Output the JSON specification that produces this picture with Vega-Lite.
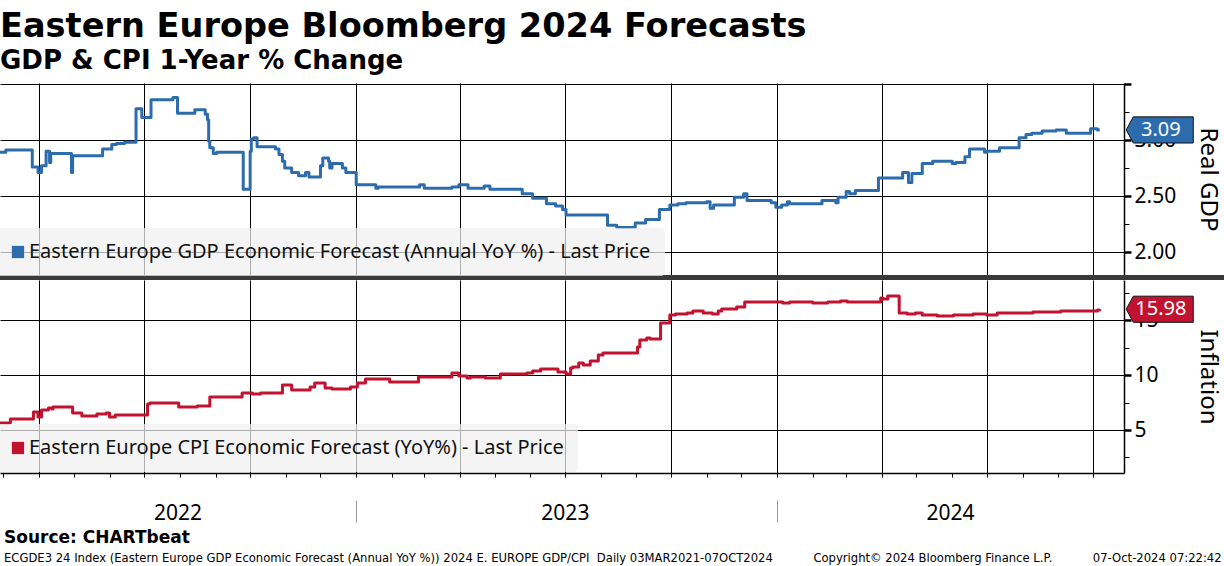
{
  "$schema": "https://vega.github.io/schema/vega-lite/v6.json",
  "padding": {"left": -6, "top": 10, "right": 0, "bottom": 0},
  "background": "white",
  "title": {
    "text": "Eastern Europe Bloomberg 2024 Forecasts",
    "subtitle": "GDP & CPI 1-Year % Change",
    "anchor": "start",
    "frame": "group",
    "font": "DejaVu Sans",
    "fontWeight": "bold",
    "fontSize": 33.6,
    "color": "#000",
    "subtitleFont": "DejaVu Sans",
    "subtitleFontWeight": "bold",
    "subtitleFontSize": 26,
    "subtitleColor": "#000",
    "subtitlePadding": 4,
    "offset": 9
  },
  "datasets": {
    "gdp": [
      {"date": "2022-02-26", "v": 2.89},
      {"date": "2022-03-03", "v": 2.91},
      {"date": "2022-03-26", "v": 2.76},
      {"date": "2022-03-31", "v": 2.71},
      {"date": "2022-04-03", "v": 2.77},
      {"date": "2022-04-07", "v": 2.90},
      {"date": "2022-04-10", "v": 2.80},
      {"date": "2022-04-11", "v": 2.88},
      {"date": "2022-04-29", "v": 2.71},
      {"date": "2022-04-30", "v": 2.86},
      {"date": "2022-05-26", "v": 2.92},
      {"date": "2022-06-03", "v": 2.96},
      {"date": "2022-06-07", "v": 2.97},
      {"date": "2022-06-14", "v": 2.98},
      {"date": "2022-06-24", "v": 3.28},
      {"date": "2022-06-29", "v": 3.20},
      {"date": "2022-07-07", "v": 3.36},
      {"date": "2022-07-26", "v": 3.38},
      {"date": "2022-07-30", "v": 3.24},
      {"date": "2022-08-14", "v": 3.27},
      {"date": "2022-08-23", "v": 3.23},
      {"date": "2022-08-25", "v": 3.18},
      {"date": "2022-08-26", "v": 2.99},
      {"date": "2022-08-27", "v": 2.93},
      {"date": "2022-08-30", "v": 2.88},
      {"date": "2022-09-02", "v": 2.89},
      {"date": "2022-09-25", "v": 2.56},
      {"date": "2022-10-01", "v": 2.90},
      {"date": "2022-10-02", "v": 3.01},
      {"date": "2022-10-04", "v": 3.02},
      {"date": "2022-10-07", "v": 2.94},
      {"date": "2022-10-23", "v": 2.92},
      {"date": "2022-10-26", "v": 2.87},
      {"date": "2022-10-29", "v": 2.81},
      {"date": "2022-10-31", "v": 2.75},
      {"date": "2022-11-06", "v": 2.71},
      {"date": "2022-11-12", "v": 2.68},
      {"date": "2022-11-18", "v": 2.71},
      {"date": "2022-11-21", "v": 2.67},
      {"date": "2022-12-01", "v": 2.77},
      {"date": "2022-12-03", "v": 2.84},
      {"date": "2022-12-08", "v": 2.81},
      {"date": "2022-12-09", "v": 2.75},
      {"date": "2022-12-11", "v": 2.79},
      {"date": "2022-12-20", "v": 2.75},
      {"date": "2022-12-23", "v": 2.71},
      {"date": "2023-01-01", "v": 2.60},
      {"date": "2023-01-18", "v": 2.57},
      {"date": "2023-01-20", "v": 2.58},
      {"date": "2023-02-25", "v": 2.60},
      {"date": "2023-03-01", "v": 2.57},
      {"date": "2023-03-25", "v": 2.58},
      {"date": "2023-03-31", "v": 2.60},
      {"date": "2023-04-08", "v": 2.57},
      {"date": "2023-04-22", "v": 2.59},
      {"date": "2023-04-27", "v": 2.56},
      {"date": "2023-05-25", "v": 2.52},
      {"date": "2023-06-03", "v": 2.48},
      {"date": "2023-06-15", "v": 2.43},
      {"date": "2023-06-23", "v": 2.41},
      {"date": "2023-06-29", "v": 2.38},
      {"date": "2023-07-02", "v": 2.33},
      {"date": "2023-08-07", "v": 2.24},
      {"date": "2023-08-15", "v": 2.22},
      {"date": "2023-08-31", "v": 2.26},
      {"date": "2023-09-09", "v": 2.29},
      {"date": "2023-09-21", "v": 2.38},
      {"date": "2023-09-30", "v": 2.42},
      {"date": "2023-10-07", "v": 2.43},
      {"date": "2023-10-14", "v": 2.44},
      {"date": "2023-11-01", "v": 2.45},
      {"date": "2023-11-04", "v": 2.39},
      {"date": "2023-11-07", "v": 2.42},
      {"date": "2023-11-25", "v": 2.49},
      {"date": "2023-12-03", "v": 2.52},
      {"date": "2023-12-06", "v": 2.46},
      {"date": "2023-12-27", "v": 2.44},
      {"date": "2023-12-31", "v": 2.40},
      {"date": "2024-01-05", "v": 2.42},
      {"date": "2024-01-10", "v": 2.45},
      {"date": "2024-01-12", "v": 2.43},
      {"date": "2024-02-09", "v": 2.46},
      {"date": "2024-02-21", "v": 2.44},
      {"date": "2024-02-23", "v": 2.49},
      {"date": "2024-03-01", "v": 2.54},
      {"date": "2024-03-04", "v": 2.52},
      {"date": "2024-03-09", "v": 2.55},
      {"date": "2024-03-29", "v": 2.66},
      {"date": "2024-04-19", "v": 2.71},
      {"date": "2024-04-24", "v": 2.62},
      {"date": "2024-04-27", "v": 2.70},
      {"date": "2024-05-06", "v": 2.79},
      {"date": "2024-05-15", "v": 2.81},
      {"date": "2024-06-01", "v": 2.79},
      {"date": "2024-06-04", "v": 2.80},
      {"date": "2024-06-12", "v": 2.85},
      {"date": "2024-06-16", "v": 2.92},
      {"date": "2024-06-29", "v": 2.89},
      {"date": "2024-07-01", "v": 2.90},
      {"date": "2024-07-12", "v": 2.93},
      {"date": "2024-07-29", "v": 3.02},
      {"date": "2024-08-04", "v": 3.05},
      {"date": "2024-08-09", "v": 3.06},
      {"date": "2024-08-18", "v": 3.08},
      {"date": "2024-08-30", "v": 3.09},
      {"date": "2024-09-08", "v": 3.06},
      {"date": "2024-09-29", "v": 3.10},
      {"date": "2024-10-05", "v": 3.09},
      {"date": "2024-10-07", "v": 3.09}
    ],
    "cpi": [
      {"date": "2022-02-26", "v": 5.64},
      {"date": "2022-03-07", "v": 6.00},
      {"date": "2022-03-27", "v": 6.64},
      {"date": "2022-03-31", "v": 6.18},
      {"date": "2022-04-03", "v": 6.82},
      {"date": "2022-04-09", "v": 7.00},
      {"date": "2022-04-12", "v": 6.91},
      {"date": "2022-04-13", "v": 7.09},
      {"date": "2022-04-30", "v": 6.55},
      {"date": "2022-05-08", "v": 6.27},
      {"date": "2022-05-21", "v": 6.45},
      {"date": "2022-05-29", "v": 6.55},
      {"date": "2022-06-01", "v": 6.18},
      {"date": "2022-06-06", "v": 6.36},
      {"date": "2022-07-04", "v": 7.36},
      {"date": "2022-07-06", "v": 7.45},
      {"date": "2022-07-31", "v": 7.09},
      {"date": "2022-08-16", "v": 7.18},
      {"date": "2022-08-27", "v": 8.00},
      {"date": "2022-09-24", "v": 8.36},
      {"date": "2022-10-03", "v": 8.27},
      {"date": "2022-10-10", "v": 8.36},
      {"date": "2022-10-29", "v": 9.09},
      {"date": "2022-11-06", "v": 8.64},
      {"date": "2022-11-22", "v": 8.91},
      {"date": "2022-11-26", "v": 9.27},
      {"date": "2022-12-05", "v": 8.82},
      {"date": "2022-12-11", "v": 8.73},
      {"date": "2022-12-27", "v": 8.91},
      {"date": "2023-01-02", "v": 9.27},
      {"date": "2023-01-09", "v": 9.64},
      {"date": "2023-01-30", "v": 9.36},
      {"date": "2023-02-24", "v": 9.82},
      {"date": "2023-03-25", "v": 10.18},
      {"date": "2023-03-31", "v": 9.91},
      {"date": "2023-04-07", "v": 9.73},
      {"date": "2023-04-10", "v": 9.82},
      {"date": "2023-04-23", "v": 9.73},
      {"date": "2023-05-06", "v": 10.09},
      {"date": "2023-05-29", "v": 10.18},
      {"date": "2023-06-03", "v": 10.36},
      {"date": "2023-06-10", "v": 10.55},
      {"date": "2023-06-25", "v": 10.27},
      {"date": "2023-07-02", "v": 10.09},
      {"date": "2023-07-06", "v": 10.64},
      {"date": "2023-07-08", "v": 10.73},
      {"date": "2023-07-13", "v": 11.09},
      {"date": "2023-07-17", "v": 10.91},
      {"date": "2023-07-23", "v": 11.27},
      {"date": "2023-07-30", "v": 11.82},
      {"date": "2023-08-03", "v": 12.00},
      {"date": "2023-09-02", "v": 12.55},
      {"date": "2023-09-04", "v": 13.18},
      {"date": "2023-09-10", "v": 13.36},
      {"date": "2023-09-13", "v": 13.27},
      {"date": "2023-09-22", "v": 14.73},
      {"date": "2023-09-30", "v": 15.45},
      {"date": "2023-10-05", "v": 15.55},
      {"date": "2023-10-15", "v": 15.64},
      {"date": "2023-10-20", "v": 15.82},
      {"date": "2023-10-29", "v": 15.64},
      {"date": "2023-11-06", "v": 15.55},
      {"date": "2023-11-11", "v": 15.82},
      {"date": "2023-11-14", "v": 16.00},
      {"date": "2023-11-27", "v": 16.18},
      {"date": "2023-12-04", "v": 16.64},
      {"date": "2024-01-06", "v": 16.55},
      {"date": "2024-01-12", "v": 16.64},
      {"date": "2024-02-01", "v": 16.55},
      {"date": "2024-02-14", "v": 16.64},
      {"date": "2024-02-25", "v": 16.73},
      {"date": "2024-03-02", "v": 16.64},
      {"date": "2024-03-31", "v": 17.00},
      {"date": "2024-04-02", "v": 16.91},
      {"date": "2024-04-06", "v": 17.18},
      {"date": "2024-04-16", "v": 15.64},
      {"date": "2024-04-23", "v": 15.55},
      {"date": "2024-04-30", "v": 15.64},
      {"date": "2024-05-06", "v": 15.45},
      {"date": "2024-05-19", "v": 15.36},
      {"date": "2024-06-02", "v": 15.45},
      {"date": "2024-06-19", "v": 15.55},
      {"date": "2024-07-01", "v": 15.45},
      {"date": "2024-07-10", "v": 15.64},
      {"date": "2024-08-10", "v": 15.73},
      {"date": "2024-09-03", "v": 15.82},
      {"date": "2024-10-05", "v": 15.91},
      {"date": "2024-10-07", "v": 15.98}
    ]
  },
  "vconcat": [
    {
      "width": 1124,
      "height": 192,
      "data": {"name": "gdp"},
      "resolve": {"axis": {"x": "independent", "y": "independent"}},
      "layer": [
        {
          "mark": {"type": "line", "interpolate": "step-after", "strokeWidth": 3, "strokeJoin": "round", "clip": true},
          "encoding": {
            "x": {
              "field": "date", "type": "temporal",
              "scale": {"type": "utc", "domain": [{"year": 2022, "month": 2, "date": 26, "utc": true}, {"year": 2024, "month": 10, "date": 28, "utc": true}]},
              "axis": {"orient": "bottom", "tickCount": {"interval": "month", "step": 3}, "grid": true, "gridColor": "#000", "gridWidth": 1, "domain": false, "ticks": false, "labels": false, "title": null}
            },
            "y": {
              "field": "v", "type": "quantitative",
              "scale": {"domain": [1.795, 3.509], "nice": false, "zero": false},
              "axis": {
                "orient": "right", "values": [2, 2.5, 3, 3.5],
                "labelExpr": "datum.value > 3.4 ? '' : format(datum.value, '.2f')",
                "grid": true, "gridColor": "#000", "gridWidth": 1,
                "domain": true, "domainColor": "#000", "domainWidth": 1.5,
                "ticks": true, "tickColor": "#000", "tickSize": 7, "tickWidth": 2.5,
                "labelFont": "Noto Sans", "labelFontSize": 21, "labelColor": "#000", "labelPadding": 3,
                "title": "Real GDP", "titleFont": "Noto Sans", "titleFontSize": 24, "titleFontWeight": "normal", "titleColor": "#000",
                "titleAngle": 90, "titleX": 83, "titleBaseline": "middle"
              }
            },
            "color": {
              "datum": "Eastern Europe GDP Economic Forecast (Annual YoY %) - Last Price",
              "scale": {"range": ["#2c6cad"]},
              "legend": {
                "title": null, "orient": "none", "legendX": -6, "legendY": 145,
                "fillColor": "rgba(240,240,240,0.72)", "padding": 14, "cornerRadius": 4,
                "symbolType": "square", "symbolSize": 150, "symbolFillColor": "#2c6cad", "symbolStrokeWidth": 0,
                "labelFont": "Noto Sans", "labelFontSize": 20, "labelColor": "#111", "labelLimit": 0, "labelOffset": 1
              }
            }
          }
        },
        {
          "mark": {"type": "line", "opacity": 0, "clip": true},
          "encoding": {
            "x": {"field": "date", "type": "temporal", "axis": null},
            "y": {
              "field": "v", "type": "quantitative",
              "axis": {"orient": "right", "values": [2.25, 2.75, 3.25], "labels": false, "grid": false, "domain": false, "ticks": true, "tickSize": 5, "tickWidth": 1, "tickColor": "#000", "title": null}
            }
          }
        },
        {
          "mark": {"type": "rect", "color": "#3a3a3a"},
          "encoding": {
            "x": {"datum": {"year": 2022, "month": 2, "date": 26, "utc": true}, "type": "temporal", "axis": null},
            "x2": {"datum": {"year": 2025, "month": 1, "date": 22, "utc": true}},
            "y": {"datum": 1.795, "type": "quantitative", "axis": null},
            "y2": {"datum": 1.7504}
          }
        },
        {
          "transform": [
            {"window": [{"op": "row_number", "as": "rn"}], "sort": [{"field": "date", "order": "descending"}]},
            {"filter": "datum.rn == 1"}
          ],
          "mark": {"type": "point", "shape": "M -1 0 L -0.79 -0.39 L 1 -0.39 L 1 0.39 L -0.79 0.39 Z", "size": 4489, "filled": true, "fill": "#2c6cad", "stroke": "#111", "strokeWidth": 1, "opacity": 1},
          "encoding": {
            "x": {"datum": {"year": 2024, "month": 11, "date": 28, "utc": true}, "type": "temporal", "axis": null},
            "y": {"field": "v", "type": "quantitative", "axis": null}
          }
        },
        {
          "transform": [
            {"window": [{"op": "row_number", "as": "rn"}], "sort": [{"field": "date", "order": "descending"}]},
            {"filter": "datum.rn == 1"}
          ],
          "mark": {"type": "text", "font": "Noto Sans", "fontSize": 20, "color": "white", "align": "center", "baseline": "middle"},
          "encoding": {
            "x": {"datum": {"year": 2024, "month": 11, "date": 29, "utc": true}, "type": "temporal", "axis": null},
            "y": {"field": "v", "type": "quantitative", "axis": null},
            "text": {"field": "v", "type": "quantitative", "format": ".2f"}
          }
        }
      ]
    },
    {
      "width": 1124,
      "height": 193,
      "data": {"name": "cpi"},
      "resolve": {"axis": {"x": "independent", "y": "independent"}},
      "title": {
        "text": "Source: CHARTbeat",
        "subtitle": "ECGDE3 24 Index (Eastern Europe GDP Economic Forecast (Annual YoY %)) 2024 E. EUROPE GDP/CPI\u00a0 Daily 03MAR2021-07OCT2024\u00a0\u00a0\u00a0\u00a0\u00a0\u00a0\u00a0\u00a0\u00a0\u00a0\u00a0Copyright\u00a9 2024 Bloomberg Finance L.P.\u00a0\u00a0\u00a0\u00a0\u00a0\u00a0\u00a0\u00a0\u00a0\u00a0\u00a007-Oct-2024 07:22:42",
        "orient": "bottom",
        "anchor": "start",
        "frame": "group",
        "dx": 4,
        "font": "DejaVu Sans",
        "fontWeight": "bold",
        "fontSize": 17,
        "color": "#000",
        "subtitleFont": "DejaVu Sans",
        "subtitleFontSize": 11.6,
        "subtitleColor": "#000",
        "subtitlePadding": 6,
        "offset": 7
      },
      "layer": [
        {
          "mark": {"type": "line", "interpolate": "step-after", "strokeWidth": 3, "strokeJoin": "round", "clip": true},
          "encoding": {
            "x": {
              "field": "date", "type": "temporal",
              "scale": {"type": "utc", "domain": [{"year": 2022, "month": 2, "date": 26, "utc": true}, {"year": 2024, "month": 10, "date": 28, "utc": true}]},
              "axis": {"orient": "bottom", "tickCount": {"interval": "month", "step": 3}, "grid": true, "gridColor": "#000", "gridWidth": 1, "domain": true, "domainColor": "#000", "domainWidth": 1.5, "ticks": false, "labels": false, "title": null}
            },
            "y": {
              "field": "v", "type": "quantitative",
              "scale": {"domain": [1.09, 18.64], "nice": false, "zero": false},
              "axis": {
                "orient": "right", "values": [5, 10, 15],
                "format": "d",
                "grid": true, "gridColor": "#000", "gridWidth": 1,
                "domain": true, "domainColor": "#000", "domainWidth": 1.5,
                "ticks": true, "tickColor": "#000", "tickSize": 7, "tickWidth": 2.5,
                "labelFont": "Noto Sans", "labelFontSize": 21, "labelColor": "#000", "labelPadding": 3,
                "title": "Inflation", "titleFont": "Noto Sans", "titleFontSize": 24, "titleFontWeight": "normal", "titleColor": "#000",
                "titleAngle": 90, "titleX": 83, "titleBaseline": "middle"
              }
            },
            "color": {
              "datum": "Eastern Europe CPI Economic Forecast (YoY%) - Last Price",
              "scale": {"range": ["#c1132f"]},
              "legend": {
                "title": null, "orient": "none", "legendX": -6, "legendY": 144,
                "fillColor": "rgba(240,240,240,0.72)", "padding": 14, "cornerRadius": 4,
                "symbolType": "square", "symbolSize": 150, "symbolFillColor": "#c1132f", "symbolStrokeWidth": 0,
                "labelFont": "Noto Sans", "labelFontSize": 20, "labelColor": "#111", "labelLimit": 0, "labelOffset": 1
              }
            }
          }
        },
        {
          "mark": {"type": "line", "opacity": 0, "clip": true},
          "encoding": {
            "x": {
              "field": "date", "type": "temporal",
              "axis": {"orient": "bottom", "tickCount": {"interval": "month", "step": 1}, "grid": false, "domain": false, "ticks": true, "tickSize": 4, "tickWidth": 1, "tickColor": "#000", "labels": false, "title": null}
            },
            "y": {
              "field": "v", "type": "quantitative",
              "axis": {"orient": "right", "values": [2.5, 7.5, 12.5, 17.5], "labels": false, "grid": false, "domain": false, "ticks": true, "tickSize": 5, "tickWidth": 1, "tickColor": "#000", "title": null}
            }
          }
        },
        {
          "mark": {"type": "line", "opacity": 0, "clip": true},
          "encoding": {
            "x": {
              "field": "date", "type": "temporal",
              "axis": {
                "orient": "bottom",
                "values": [{"year": 2022, "month": 7, "date": 30, "utc": true}, {"year": 2023, "month": 7, "date": 1, "utc": true}, {"year": 2024, "month": 5, "date": 30, "utc": true}],
                "labelExpr": "utcFormat(datum.value, '%Y')",
                "grid": false, "domain": false, "ticks": false,
                "labelFont": "Noto Sans", "labelFontSize": 21, "labelColor": "#000", "labelPadding": 29, "labelFlush": false, "labelOverlap": false,
                "title": null
              }
            },
            "y": {"field": "v", "type": "quantitative", "axis": null}
          }
        },
        {
          "mark": {"type": "line", "opacity": 0, "clip": true},
          "encoding": {
            "x": {
              "field": "date", "type": "temporal",
              "axis": {
                "orient": "bottom", "offset": 27,
                "values": [{"year": 2023, "month": 1, "date": 1, "utc": true}, {"year": 2024, "month": 1, "date": 1, "utc": true}],
                "grid": false, "domain": false, "labels": false,
                "ticks": true, "tickSize": 22, "tickWidth": 1, "tickColor": "#999",
                "title": null
              }
            },
            "y": {"field": "v", "type": "quantitative", "axis": null}
          }
        },
        {
          "transform": [
            {"window": [{"op": "row_number", "as": "rn"}], "sort": [{"field": "date", "order": "descending"}]},
            {"filter": "datum.rn == 1"}
          ],
          "mark": {"type": "point", "shape": "M -1 0 L -0.79 -0.39 L 1 -0.39 L 1 0.39 L -0.79 0.39 Z", "size": 4489, "filled": true, "fill": "#c1132f", "stroke": "#111", "strokeWidth": 1, "opacity": 1},
          "encoding": {
            "x": {"datum": {"year": 2024, "month": 11, "date": 28, "utc": true}, "type": "temporal", "axis": null},
            "y": {"field": "v", "type": "quantitative", "axis": null}
          }
        },
        {
          "transform": [
            {"window": [{"op": "row_number", "as": "rn"}], "sort": [{"field": "date", "order": "descending"}]},
            {"filter": "datum.rn == 1"}
          ],
          "mark": {"type": "text", "font": "Noto Sans", "fontSize": 20, "color": "white", "align": "center", "baseline": "middle"},
          "encoding": {
            "x": {"datum": {"year": 2024, "month": 11, "date": 29, "utc": true}, "type": "temporal", "axis": null},
            "y": {"field": "v", "type": "quantitative", "axis": null},
            "text": {"field": "v", "type": "quantitative", "format": ".2f"}
          }
        }
      ]
    }
  ],
  "spacing": 5,
  "bounds": "flush",
  "resolve": {"scale": {"color": "independent"}},
  "config": {
    "view": {"stroke": null},
    "axis": {"labelFont": "Noto Sans", "titleFont": "Noto Sans"}
  }
}
